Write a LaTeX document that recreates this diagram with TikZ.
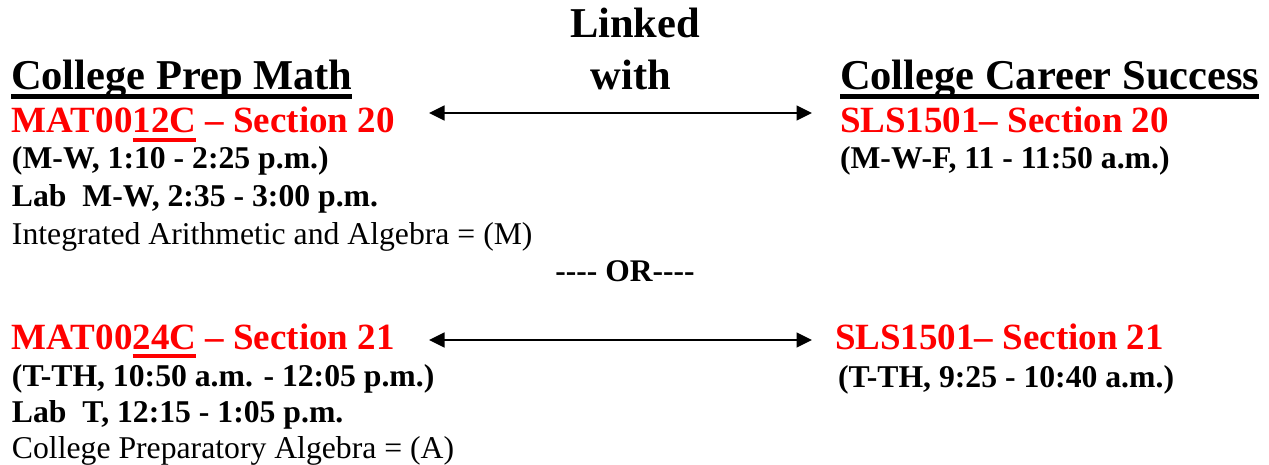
\documentclass[tikz,border=0pt]{standalone}
\usepackage{fontspec}
\setmainfont{Liberation Serif}
\usetikzlibrary{arrows.meta}
\definecolor{lred}{RGB}{255,0,0}
\newcommand\thickul[3]{\setbox0\hbox{#3}\rlap{\rule[#1]{\wd0}{#2}}\box0\relax}
\tikzset{
 txt/.style={anchor=base west, inner sep=0pt, outer sep=0pt},
 head/.style={txt, font=\fontsize{42.5}{50}\selectfont\bfseries},
 course/.style={txt, text=lred, font=\fontsize{37}{44}\selectfont\bfseries},
 info/.style={txt, font=\fontsize{31.7}{38}\selectfont\bfseries},
 plain/.style={txt, font=\fontsize{31.7}{38}\selectfont},
 orstyle/.style={txt, anchor=base, font=\fontsize{31.5}{38}\selectfont\bfseries},
 link/.style={{Triangle[length=15.5pt,width=15pt]}-{Triangle[length=15.5pt,width=15pt]}, line width=1.8pt},
}
\begin{document}
\begin{tikzpicture}[x=1pt,y=-1pt]
\useasboundingbox (0,0) rectangle (1269,465);
% header
\node[head, anchor=base] (linked) at (635,37.5) {Linked};
\node[head, anchor=base] (with) at (631,90) {with};
\node[head] (cpm) at (11,90) {\thickul{-8.7pt}{4.4pt}{College Prep Math}};
\node[head] (ccs) at (840,90) {\thickul{-8.7pt}{4.4pt}{College Career Success}};
% first pair
\node[course] (m1) at (12,133) {MAT00\thickul{-8.7pt}{4pt}{12C} – Section 20};
\node[course] (s1) at (840,133) {SLS1501– Section 20};
\node[info] (t1) at (12,169) {(M-W, 1:10 - 2:25 p.m.)};
\node[info] (l1) at (12,207) {Lab\ \ M-W, 2:35 - 3:00 p.m.};
\node[plain] (d1) at (12,244) {Integrated Arithmetic and Algebra = (M)};
\node[info] (t1r) at (840,169) {(M-W-F, 11 - 11:50 a.m.)};
\coordinate (a1l) at (429,113);
\coordinate (a1r) at (812,113);
\draw[link] (a1l) -- (a1r);
% or
\node[orstyle] (or) at (625,281.5) {-{}-{}-{}- OR-{}-{}-{}-};
% second pair
\node[course] (m2) at (12,349) {MAT00\thickul{-8.5pt}{4pt}{24C} – Section 21};
\node[course] (s2) at (835,349) {SLS1501– Section 21};
\node[info] (t2) at (12,386) {(T-TH, 10:50 a.m. - 12:05 p.m.)};
\node[info] (l2) at (12,422) {Lab\ \ T, 12:15 - 1:05 p.m.};
\node[plain] (d2) at (12,458) {College Preparatory Algebra = (A)};
\node[info] (t2r) at (838,387) {(T-TH, 9:25 - 10:40 a.m.)};
\coordinate (a2l) at (429,340);
\coordinate (a2r) at (812,340);
\draw[link] (a2l) -- (a2r);
\end{tikzpicture}
\end{document}
